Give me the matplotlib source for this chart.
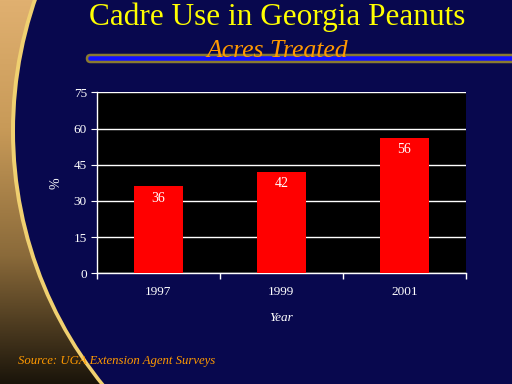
import matplotlib
matplotlib.use("Agg")
import matplotlib.pyplot as plt
import numpy as np
from matplotlib.patches import Circle, FancyBboxPatch
from matplotlib.colors import LinearSegmentedColormap

years = ["1997", "1999", "2001"]
values = [36, 42, 56]
yticks = [0, 15, 30, 45, 60, 75]

title = "Cadre Use in Georgia Peanuts"
subtitle = "Acres Treated"
source = "Source: UGA Extension Agent Surveys"

W, H = 512, 384
fig = plt.figure(figsize=(W / 100, H / 100), dpi=100)

# background
bg = fig.add_axes([0, 0, 1, 1])
bg.set_xlim(0, W)
bg.set_ylim(H, 0)
bg.axis("off")
grad = np.linspace(0, 1, 256)[:, None]
tan = LinearSegmentedColormap.from_list("tan", ["#e0b070", "#c89a58", "#8a6a3a", "#1a140a"])
bg.imshow(grad, cmap=tan, extent=[0, W, H, 0], aspect="auto", zorder=0)
bg.add_patch(Circle((416, 131), 405, facecolor="#f0d070", edgecolor="none", zorder=1))
bg.add_patch(Circle((418, 131), 403, facecolor="#08084e", edgecolor="none", zorder=2))
# header rule
bg.add_patch(FancyBboxPatch((87, 55), 440, 7, boxstyle="round,pad=0,rounding_size=3.5",
                            facecolor="#1010ff", edgecolor="#8a7a30", linewidth=1.8, zorder=3))

fig.text(0.542, 0.955, title, ha="center", va="center", color="#ffff00",
         fontsize=22.5, family="Liberation Serif")
fig.text(0.542, 0.868, subtitle, ha="center", va="center", color="#ff9900",
         fontsize=18.5, family="Liberation Serif", style="italic", zorder=5)
fig.text(18 / W, 1 - 361 / H, source, ha="left", va="center", color="#ff9900",
         fontsize=9.2, family="Liberation Serif", style="italic")

ax = fig.add_axes([96.7 / W, 1 - 273.3 / H, (466 - 96.7) / W, (273.3 - 92.3) / H])
ax.set_facecolor("black")
x = np.arange(len(years))
bars = ax.bar(x, values, width=0.4, color="#ff0000", zorder=3)
for xi, v in zip(x, values):
    ax.text(xi, v - 2.2, str(v), ha="center", va="top", color="white",
            fontsize=10, family="Liberation Serif", zorder=4)
ax.set_xlim(-0.5, len(years) - 0.5)
ax.set_ylim(0, 75)
ax.set_yticks(yticks)
ax.set_yticklabels([str(t) for t in yticks])
ax.yaxis.grid(True, color="white", linewidth=1, zorder=1)
ax.set_axisbelow(True)
ax.set_xticks(x)
ax.set_xticklabels(years)
ax.set_xticks(np.arange(-0.5, len(years)), minor=True)
ax.tick_params(axis="x", which="major", length=0, pad=9, colors="white", labelsize=9.5)
ax.tick_params(axis="x", which="minor", length=4, color="white", width=1)
ax.tick_params(axis="y", length=4, color="white", colors="white", labelsize=9.5, pad=3)
for lbl in ax.get_xticklabels() + ax.get_yticklabels():
    lbl.set_family("Liberation Serif")
for s in ["left", "bottom"]:
    ax.spines[s].set_color("white")
    ax.spines[s].set_linewidth(1)
for s in ["top", "right"]:
    ax.spines[s].set_visible(False)
ax.set_ylabel("%", color="white", fontsize=10, family="Liberation Serif", labelpad=8)
ax.set_xlabel("Year", color="white", fontsize=9.5, family="Liberation Serif",
              style="italic", labelpad=10)

fig.savefig("out.png", dpi=100)
